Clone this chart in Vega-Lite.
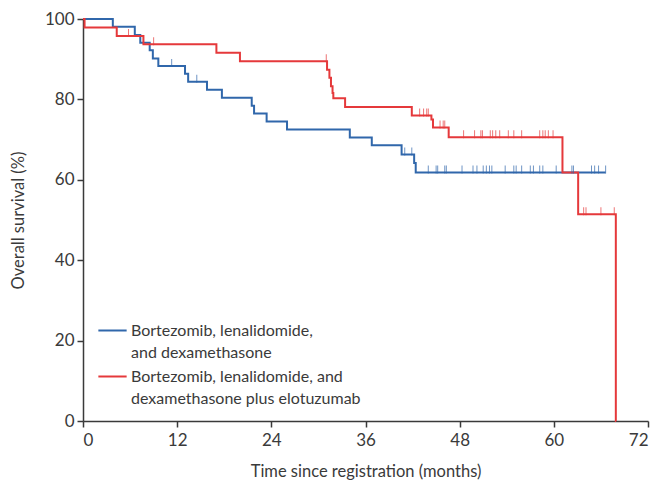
{
  "$schema": "https://vega.github.io/schema/vega-lite/v6.json",
  "autosize": {"type": "none"},
  "width": 565,
  "height": 402,
  "padding": {"left": 83, "top": 19, "right": 12, "bottom": 60},
  "background": "white",
  "config": {
    "view": {"stroke": null},
    "font": "Lato",
    "axis": {
      "grid": false,
      "domainColor": "#3a3a3a",
      "tickColor": "#3a3a3a",
      "domainWidth": 1.5,
      "tickWidth": 1.5,
      "tickSize": 6,
      "labelColor": "#3a3a3a",
      "titleColor": "#3a3a3a",
      "labelFont": "Lato",
      "titleFont": "Lato",
      "labelFontSize": 17,
      "titleFontSize": 16.5,
      "titleFontWeight": "normal"
    }
  },
  "datasets": {
    "curves": [
      {"group": "B", "time": 0, "surv": 100},
      {"group": "B", "time": 3.8, "surv": 98.1},
      {"group": "B", "time": 6.6, "surv": 96.0},
      {"group": "B", "time": 7.3, "surv": 94.1},
      {"group": "B", "time": 8.5, "surv": 92.2},
      {"group": "B", "time": 8.9, "surv": 90.2},
      {"group": "B", "time": 9.6, "surv": 88.3},
      {"group": "B", "time": 13.0, "surv": 86.4},
      {"group": "B", "time": 13.4, "surv": 84.4},
      {"group": "B", "time": 15.8, "surv": 82.4},
      {"group": "B", "time": 17.7, "surv": 80.4},
      {"group": "B", "time": 21.5, "surv": 78.4},
      {"group": "B", "time": 21.8, "surv": 76.5},
      {"group": "B", "time": 23.4, "surv": 74.5},
      {"group": "B", "time": 26.0, "surv": 72.5},
      {"group": "B", "time": 34.0, "surv": 70.5},
      {"group": "B", "time": 36.8, "surv": 68.6},
      {"group": "B", "time": 40.6, "surv": 66.3},
      {"group": "B", "time": 42.2, "surv": 64.2},
      {"group": "B", "time": 42.4, "surv": 61.8},
      {"group": "B", "time": 66.6, "surv": 61.8},
      {"group": "E", "time": 0, "surv": 100},
      {"group": "E", "time": 0.2, "surv": 97.9},
      {"group": "E", "time": 4.3, "surv": 95.8},
      {"group": "E", "time": 7.7, "surv": 93.7},
      {"group": "E", "time": 17.0, "surv": 91.6},
      {"group": "E", "time": 20.0, "surv": 89.5},
      {"group": "E", "time": 31.1, "surv": 87.4},
      {"group": "E", "time": 31.4, "surv": 85.4},
      {"group": "E", "time": 31.6, "surv": 83.3},
      {"group": "E", "time": 31.8, "surv": 81.6},
      {"group": "E", "time": 31.9, "surv": 80.3},
      {"group": "E", "time": 33.4, "surv": 78.1},
      {"group": "E", "time": 41.9, "surv": 76.0},
      {"group": "E", "time": 44.4, "surv": 75.0},
      {"group": "E", "time": 44.6, "surv": 73.0},
      {"group": "E", "time": 46.6, "surv": 70.6},
      {"group": "E", "time": 61.1, "surv": 61.8},
      {"group": "E", "time": 63.1, "surv": 51.4},
      {"group": "E", "time": 67.9, "surv": 0},
      {"group": "E", "time": 67.95, "surv": 0}
    ],
    "censors": [
      {"group": "B", "time": 11.3, "surv": 88.3},
      {"group": "B", "time": 14.5, "surv": 84.4},
      {"group": "B", "time": 41.0, "surv": 66.3},
      {"group": "B", "time": 41.9, "surv": 66.3},
      {"group": "B", "time": 44.0, "surv": 61.8},
      {"group": "B", "time": 45.0, "surv": 61.8},
      {"group": "B", "time": 45.2, "surv": 61.8},
      {"group": "B", "time": 46.1, "surv": 61.8},
      {"group": "B", "time": 46.3, "surv": 61.8},
      {"group": "B", "time": 48.3, "surv": 61.8},
      {"group": "B", "time": 49.7, "surv": 61.8},
      {"group": "B", "time": 50.2, "surv": 61.8},
      {"group": "B", "time": 51.0, "surv": 61.8},
      {"group": "B", "time": 51.4, "surv": 61.8},
      {"group": "B", "time": 51.8, "surv": 61.8},
      {"group": "B", "time": 52.1, "surv": 61.8},
      {"group": "B", "time": 53.8, "surv": 61.8},
      {"group": "B", "time": 54.9, "surv": 61.8},
      {"group": "B", "time": 55.2, "surv": 61.8},
      {"group": "B", "time": 55.9, "surv": 61.8},
      {"group": "B", "time": 57.0, "surv": 61.8},
      {"group": "B", "time": 57.4, "surv": 61.8},
      {"group": "B", "time": 58.2, "surv": 61.8},
      {"group": "B", "time": 58.6, "surv": 61.8},
      {"group": "B", "time": 60.3, "surv": 61.8},
      {"group": "B", "time": 62.3, "surv": 61.8},
      {"group": "B", "time": 62.5, "surv": 61.8},
      {"group": "B", "time": 64.8, "surv": 61.8},
      {"group": "B", "time": 65.2, "surv": 61.8},
      {"group": "B", "time": 65.7, "surv": 61.8},
      {"group": "B", "time": 66.6, "surv": 61.8},
      {"group": "E", "time": 5.8, "surv": 95.8},
      {"group": "E", "time": 9.0, "surv": 93.7},
      {"group": "E", "time": 31.0, "surv": 89.5},
      {"group": "E", "time": 42.9, "surv": 76.0},
      {"group": "E", "time": 43.4, "surv": 76.0},
      {"group": "E", "time": 43.8, "surv": 76.0},
      {"group": "E", "time": 44.0, "surv": 76.0},
      {"group": "E", "time": 45.5, "surv": 73.0},
      {"group": "E", "time": 45.9, "surv": 73.0},
      {"group": "E", "time": 46.1, "surv": 73.0},
      {"group": "E", "time": 48.5, "surv": 70.6},
      {"group": "E", "time": 49.9, "surv": 70.6},
      {"group": "E", "time": 50.7, "surv": 70.6},
      {"group": "E", "time": 50.9, "surv": 70.6},
      {"group": "E", "time": 51.9, "surv": 70.6},
      {"group": "E", "time": 52.2, "surv": 70.6},
      {"group": "E", "time": 52.6, "surv": 70.6},
      {"group": "E", "time": 53.1, "surv": 70.6},
      {"group": "E", "time": 54.2, "surv": 70.6},
      {"group": "E", "time": 54.9, "surv": 70.6},
      {"group": "E", "time": 55.9, "surv": 70.6},
      {"group": "E", "time": 58.2, "surv": 70.6},
      {"group": "E", "time": 58.6, "surv": 70.6},
      {"group": "E", "time": 58.9, "surv": 70.6},
      {"group": "E", "time": 59.3, "surv": 70.6},
      {"group": "E", "time": 59.9, "surv": 70.6},
      {"group": "E", "time": 63.8, "surv": 51.4},
      {"group": "E", "time": 64.1, "surv": 51.4},
      {"group": "E", "time": 66.0, "surv": 51.4},
      {"group": "E", "time": 67.7, "surv": 51.4}
    ]
  },
  "layer": [
    {
      "data": {"name": "curves"},
      "mark": {"type": "line", "interpolate": "step-after", "strokeWidth": 2},
      "encoding": {
        "x": {
          "field": "time", "type": "quantitative",
          "scale": {"domain": [0, 72], "nice": false},
          "axis": {"values": [0, 12, 24, 36, 48, 60, 72], "title": "Time since registration (months)", "labelPadding": 5, "titlePadding": 15}
        },
        "y": {
          "field": "surv", "type": "quantitative",
          "scale": {"domain": [0, 100], "nice": false},
          "axis": {"values": [0, 20, 40, 60, 80, 100], "title": "Overall survival (%)", "labelPadding": 3, "titlePadding": 18}
        },
        "color": {
          "field": "group", "type": "nominal",
          "scale": {"domain": ["B", "E"], "range": ["#3067ab", "#e5393b"]},
          "legend": {
            "title": null,
            "orient": "bottom-left",
            "offset": 14,
            "symbolType": "stroke",
            "symbolSize": 800,
            "symbolStrokeWidth": 2,
            "labelFont": "Lato",
            "labelFontSize": 16,
            "labelColor": "#3a3a3a",
            "labelLimit": 500,
            "labelOffset": 3,
            "labelBaseline": "alphabetic",
            "rowPadding": 0,
            "labelExpr": "datum.label == 'B' ? ['Bortezomib, lenalidomide,', 'and dexamethasone'] : ['Bortezomib, lenalidomide, and', 'dexamethasone plus elotuzumab']",
            "encode": {"labels": {"update": {"dy": {"value": 5}, "lineHeight": {"value": 22.5}}}}
          }
        },
        "order": {"field": "time", "type": "quantitative"}
      }
    },
    {
      "data": {"name": "censors"},
      "mark": {"type": "tick", "orient": "vertical", "size": 8, "thickness": 1, "yOffset": -3},
      "encoding": {
        "x": {"field": "time", "type": "quantitative"},
        "y": {"field": "surv", "type": "quantitative"},
        "color": {"field": "group", "type": "nominal"}
      }
    }
  ]
}
